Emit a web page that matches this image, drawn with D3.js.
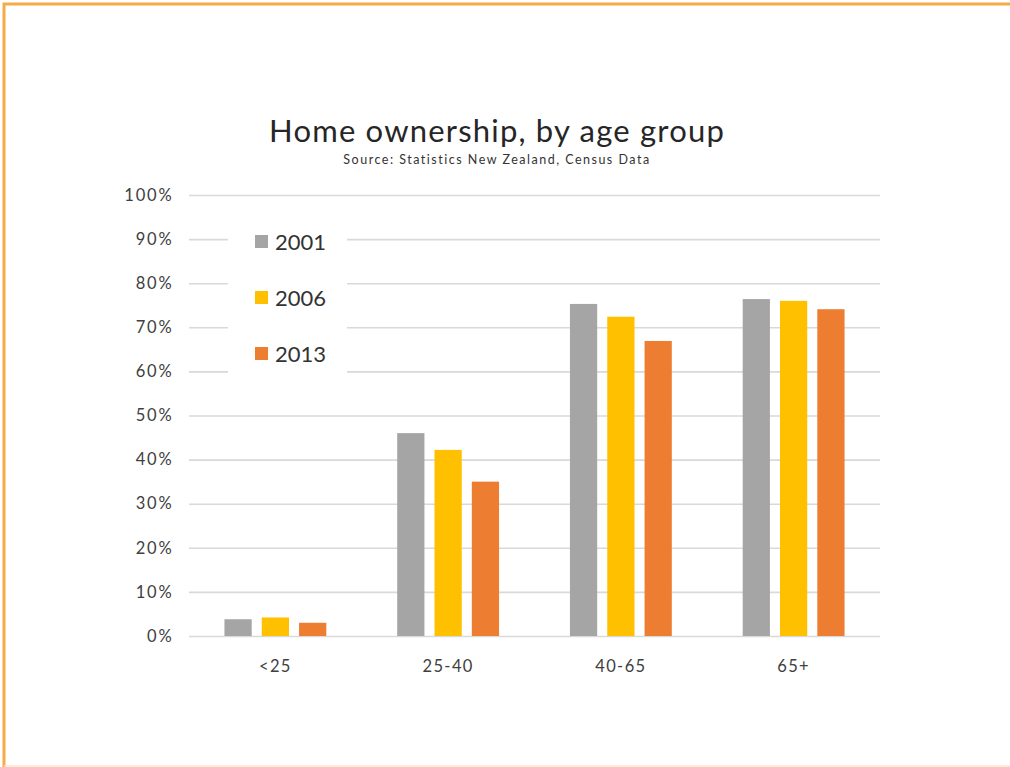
<!DOCTYPE html>
<html>
<head>
<meta charset="utf-8">
<script src="https://cdn.jsdelivr.net/npm/d3@7"></script>
<style>
  html, body { margin: 0; padding: 0; background: #fff; }
  svg { display: block; }
</style>
</head>
<body>
<svg id="chart" width="1010" height="767"></svg>
<script>
// Home ownership rates by age group, census years
const ageGroups = ["<25", "25-40", "40-65", "65+"];
const years = ["2001", "2006", "2013"];
const own2001 = [3.8, 46.0, 75.3, 76.4];
const own2006 = [4.2, 42.2, 72.4, 76.0];
const own2013 = [3.0, 35.0, 66.9, 74.1];
const yTicks = [0, 10, 20, 30, 40, 50, 60, 70, 80, 90, 100];
const seriesColors = ["#a5a5a5", "#ffc000", "#ed7d31"];

const seriesValues = [own2001, own2006, own2013];
const rows = ageGroups.map((g, i) => ({
  group: g,
  values: years.map((y, j) => ({ year: y, value: seriesValues[j][i], color: seriesColors[j] }))
}));

const svg = d3.select("#chart");
const font = "Lato, 'Open Sans', 'Liberation Sans', sans-serif";

// outer frame (top and left edges in orange, faint bottom edge)
svg.append("line").attr("x1", 3).attr("x2", 1010).attr("y1", 4).attr("y2", 4)
  .attr("stroke", "#f6aa48").attr("stroke-width", 3);
svg.append("line").attr("x1", 4).attr("x2", 4).attr("y1", 3).attr("y2", 767)
  .attr("stroke", "#f6aa48").attr("stroke-width", 3);
svg.append("line").attr("x1", 4).attr("x2", 1010).attr("y1", 766).attr("y2", 766)
  .attr("stroke", "#fbe6c8").attr("stroke-width", 1.5);

const plot = { left: 189, right: 880, top: 195, bottom: 636 };

const x = d3.scaleBand().domain(ageGroups).range([plot.left, plot.right]).paddingInner(0).paddingOuter(0);
const xInner = d3.scaleBand().domain(years).range([0, x.bandwidth()]).paddingInner(0.27).paddingOuter(0.95);
const y = d3.scaleLinear().domain([0, 100]).range([plot.bottom, plot.top]);

// gridlines + y labels via axis
const yAxis = d3.axisLeft(y).tickValues(yTicks).tickFormat(d => d + "%")
  .tickSize(-(plot.right - plot.left)).tickPadding(15.5);
const gy = svg.append("g").attr("transform", `translate(${plot.left},0)`).call(yAxis);
gy.select(".domain").remove();
gy.selectAll(".tick line").attr("stroke", "#d9d9d9").attr("stroke-width", 1.6);
gy.selectAll(".tick text").attr("fill", "#404040").attr("font-family", font)
  .attr("font-size", 16.5).attr("letter-spacing", 1.8);

// bars
const groups = svg.append("g").selectAll("g").data(rows).join("g")
  .attr("transform", d => `translate(${x(d.group)},0)`);
groups.selectAll("rect").data(d => d.values).join("rect")
  .attr("x", d => xInner(d.year))
  .attr("width", xInner.bandwidth())
  .attr("y", d => y(d.value))
  .attr("height", d => y(0) - y(d.value))
  .attr("fill", d => d.color);

// category axis labels
const xAxis = d3.axisBottom(x).tickSize(0).tickPadding(24);
const gx = svg.append("g").attr("transform", `translate(0,${plot.bottom})`).call(xAxis);
gx.select(".domain").remove();
gx.selectAll(".tick text").attr("fill", "#404040").attr("font-family", font)
  .attr("font-size", 16.5).attr("letter-spacing", 1.4);

// legend on white box over the gridlines
const legend = svg.append("g");
legend.append("rect").attr("x", 228).attr("y", 212).attr("width", 119).attr("height", 164)
  .attr("fill", "#fff");
const legendY = d3.scalePoint().domain(years).range([242, 354]);
const items = legend.selectAll("g.item").data(years).join("g").attr("class", "item")
  .attr("transform", d => `translate(255,${legendY(d)})`);
items.append("rect").attr("x", 0).attr("y", -7).attr("width", 13).attr("height", 13)
  .attr("fill", (d, i) => seriesColors[i]);
items.append("text").attr("x", 20).attr("y", 0).attr("dy", "0.36em")
  .attr("font-family", font).attr("font-size", 22).attr("fill", "#333").text(d => d);

// titles
svg.append("text").attr("x", 497).attr("y", 142).attr("text-anchor", "middle")
  .attr("font-family", font).attr("font-size", 31).attr("fill", "#262626")
  .attr("letter-spacing", 1.2)
  .text("Home ownership, by age group");
svg.append("text").attr("x", 497).attr("y", 164).attr("text-anchor", "middle")
  .attr("font-family", font).attr("font-size", 12.5).attr("fill", "#333")
  .attr("letter-spacing", 1.5)
  .text("Source: Statistics New Zealand, Census Data");
</script>
</body>
</html>
